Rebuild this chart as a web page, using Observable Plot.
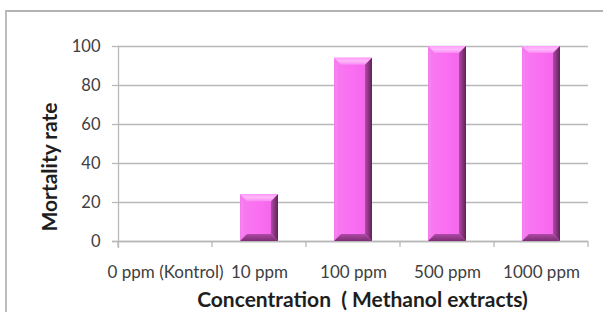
<!DOCTYPE html>
<html><head><meta charset="utf-8">
<script src="https://cdn.jsdelivr.net/npm/d3@7"></script>
<script src="https://cdn.jsdelivr.net/npm/@observablehq/plot@0.6"></script>
<style>
html,body{margin:0;padding:0;background:#fff;}
#wrap{position:relative;width:603px;height:312px;overflow:hidden;background:#fff;}
#wrap svg{position:absolute;left:0;top:0;}
#border{position:absolute;left:5px;top:10px;width:700px;height:400px;border-top:2px solid #b3b3b3;border-left:2px solid #bdbdbd;pointer-events:none;}
</style></head><body><div id="wrap"><div id="border"></div></div>
<script>
const categories = ["0 ppm (Kontrol)", "10 ppm", "100 ppm", "500 ppm", "1000 ppm"];
const mortality = [0, 24, 94, 100, 100];
const yTicks = [0, 20, 40, 60, 80, 100];
const xTitle = "Concentration  ( Methanol extracts)";
const yTitle = "Mortality rate";

const data = categories.map((c, i) => ({concentration: c, mortality: mortality[i]}));
const gridColor = "#b8b8b8";

function boundaryTicks(index, scales, values, dims) {
  const x = scales.x, y = scales.y;
  const step = x.step ? x.step() : (dims.width - dims.marginLeft - dims.marginRight) / categories.length;
  const bw = x.bandwidth ? x.bandwidth() : 0;
  const g = d3.create("svg:g");
  const y0 = y(0);
  const xs = categories.map(c => x(c) + bw / 2 - step / 2);
  xs.push(x(categories[categories.length - 1]) + bw / 2 + step / 2);
  for (const xv of xs) {
    g.append("line").attr("x1", xv).attr("x2", xv).attr("y1", y0).attr("y2", y0 + 6)
      .attr("stroke", gridColor).attr("stroke-width", 1.3);
  }
  return g.node();
}

const plot = Plot.plot({
  width: 603,
  height: 312,
  marginLeft: 118,
  marginRight: 15,
  marginTop: 46,
  marginBottom: 71,
  style: {fontFamily: "Lato, 'Open Sans', sans-serif", background: "transparent", overflow: "visible"},
  x: {domain: categories, paddingInner: 0.6, paddingOuter: 0.3, label: null},
  y: {domain: [0, 100], label: null},
  marks: [
    Plot.gridY(yTicks, {stroke: gridColor, strokeOpacity: 1, strokeWidth: 1.3}),
    Plot.axisY({ticks: yTicks, tickSize: 6, tickPadding: 12, fontSize: 16.5, fill: "#404040", stroke: gridColor, strokeWidth: 1.3, label: null}),
    Plot.frame({anchor: "left", stroke: gridColor, strokeWidth: 1.3, insetBottom: -6}),
    Plot.ruleY([0], {stroke: gridColor, strokeWidth: 1.3, insetLeft: -6}),
    Plot.barY(data, {x: "concentration", y: "mortality", fill: "url(#barFace)"}),
    boundaryTicks,
    Plot.axisX({tickSize: 0, tickPadding: 24, fontSize: 17, fill: "#404040", label: null}),
    Plot.text([xTitle], {frameAnchor: "bottom", dx: 9, dy: 65, fontSize: 21, fontWeight: "bold", fill: "#1e1e1e"}),
    Plot.text([yTitle], {frameAnchor: "left", textAnchor: "middle", dx: -68, dy: 23, rotate: -90, fontSize: 21, fontWeight: "bold", fill: "#1e1e1e"})
  ]
});

// gradients for bevelled bars
const defs = d3.select(plot).insert("defs", ":first-child");
function grad(id, x2, y2, stops) {
  const lg = defs.append("linearGradient").attr("id", id).attr("x1", 0).attr("y1", 0).attr("x2", x2).attr("y2", y2);
  for (const [o, c] of stops) lg.append("stop").attr("offset", o).attr("stop-color", c);
}
grad("barFace", 1, 0, [[0, "#f77cf0"], [0.5, "#fa6ef2"], [1, "#f064e8"]]);
grad("bevTop", 0, 1, [[0, "#ff9ff9"], [0.5, "#ffb8fb"], [1, "#f98af3"]]);
grad("bevRight", 1, 0, [[0, "#b04aa6"], [1, "#5e2258"]]);
grad("bevBottom", 0, 1, [[0, "#b04aa8"], [1, "#7a2e72"]]);
grad("bevLeft", 1, 0, [[0, "#f27ae9"], [1, "#fa86f3"]]);

d3.select(plot).selectAll('g[aria-label="bar"] rect').each(function () {
  const r = d3.select(this);
  const x = +r.attr("x"), y = +r.attr("y"), w = +r.attr("width"), h = +r.attr("height");
  if (!(h > 1)) return;
  const b = Math.min(7, h / 3, w / 4);
  const g = d3.select(this.parentNode);
  const polys = [
    [[[x, y], [x + w, y], [x + w - b, y + b], [x + b, y + b]], "url(#bevTop)"],
    [[[x + w, y], [x + w, y + h], [x + w - b, y + h - b], [x + w - b, y + b]], "url(#bevRight)"],
    [[[x, y + h], [x + w, y + h], [x + w - b, y + h - b], [x + b, y + h - b]], "url(#bevBottom)"],
    [[[x, y], [x + b * 0.4, y + b], [x + b * 0.4, y + h - b], [x, y + h]], "url(#bevLeft)"]
  ];
  for (const [pts, fill] of polys) {
    g.append("polygon").attr("points", pts.map(p => p.join(",")).join(" ")).attr("fill", fill);
  }
});

document.getElementById("wrap").prepend(plot);
</script>
</body></html>
